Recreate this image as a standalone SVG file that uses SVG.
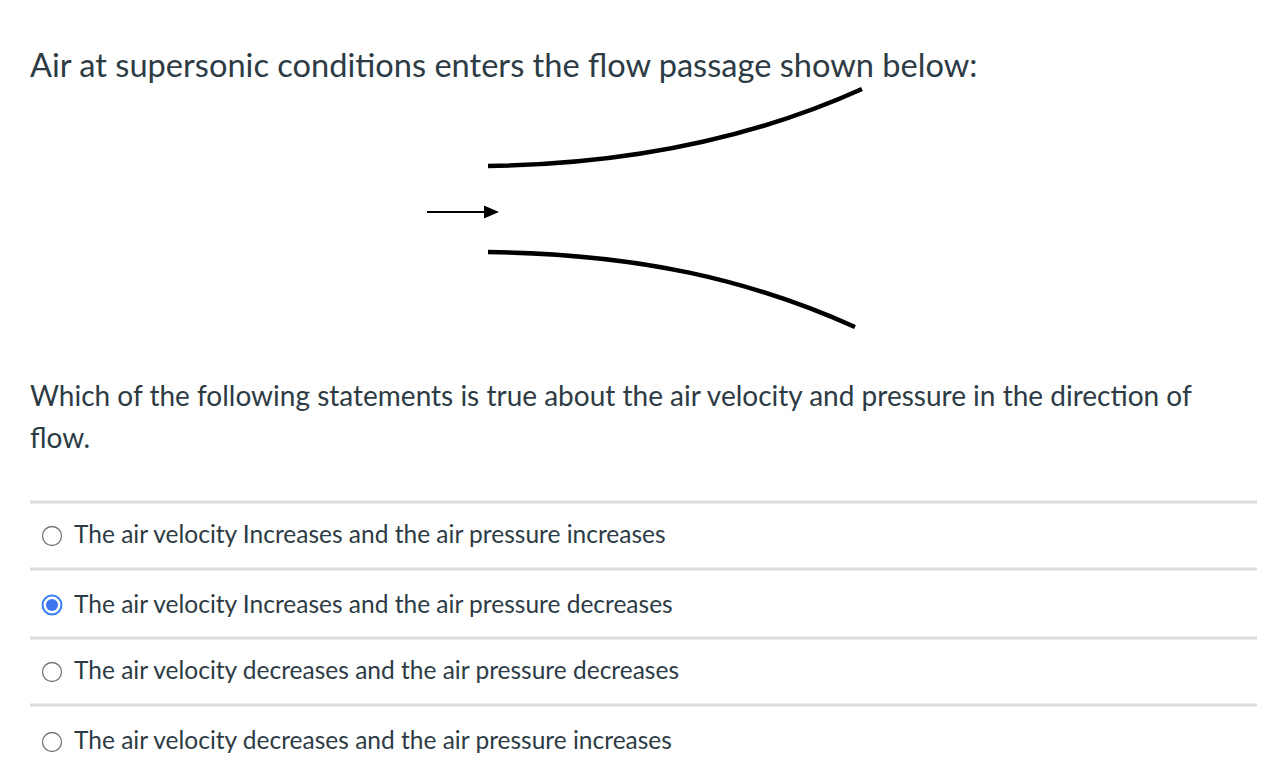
<svg xmlns="http://www.w3.org/2000/svg" width="1286" height="784" viewBox="0 0 1286 784">
<style>
text{font-family:Lato,"Liberation Sans",sans-serif;fill:#2d3b45}
.opt{font-size:24.5px}
.q{font-size:28px}
.sep{stroke:#dcdcdc;stroke-width:3}
.wall{fill:none;stroke:#000;stroke-width:4.5}
.rb{fill:#fff;stroke:#777;stroke-width:1.3}
</style>
<defs><marker id="ah" markerWidth="7" markerHeight="6" refX="6" refY="3" orient="auto" markerUnits="strokeWidth"><path d="M0,0L7,3L0,6Z" fill="#000"/></marker></defs>
<rect width="1286" height="784" fill="#fff"/>
<text x="30" y="77" font-size="32.6">Air at supersonic conditions enters the flow passage shown below:</text>
<g id="passage">
<path class="wall" d="M488,166 C640,164 760,135 862,89"/>
<path class="wall" d="M488,252 C640,254 750,280 855,327"/>
</g>
<g id="connectors"><line x1="427" y1="212" x2="497" y2="212" stroke="#000" stroke-width="2.2" marker-end="url(#ah)"/></g>
<text class="q" x="30" y="406">Which of the following statements is true about the air velocity and pressure in the direction of</text>
<text class="q" x="30" y="448">flow.</text>
<g id="seps">
<line class="sep" x1="30" y1="502" x2="1257" y2="502"/>
<line class="sep" x1="30" y1="569" x2="1257" y2="569"/>
<line class="sep" x1="30" y1="638" x2="1257" y2="638"/>
<line class="sep" x1="30" y1="705" x2="1257" y2="705"/>
</g>
<g id="opt1"><circle class="rb" cx="52" cy="536" r="9.5"/><text class="opt" x="74" y="543">The air velocity Increases and the air pressure increases</text></g>
<g id="opt2"><circle cx="52" cy="605" r="9.5" fill="#fff" stroke="#3b82f6" stroke-width="2"/><circle cx="52" cy="605" r="6" fill="#3b76f0"/><text class="opt" x="74" y="613">The air velocity Increases and the air pressure decreases</text></g>
<g id="opt3"><circle class="rb" cx="52" cy="672" r="9.5"/><text class="opt" x="74" y="679">The air velocity decreases and the air pressure decreases</text></g>
<g id="opt4"><circle class="rb" cx="52" cy="742" r="9.5"/><text class="opt" x="74" y="749">The air velocity decreases and the air pressure increases</text></g>
</svg>
